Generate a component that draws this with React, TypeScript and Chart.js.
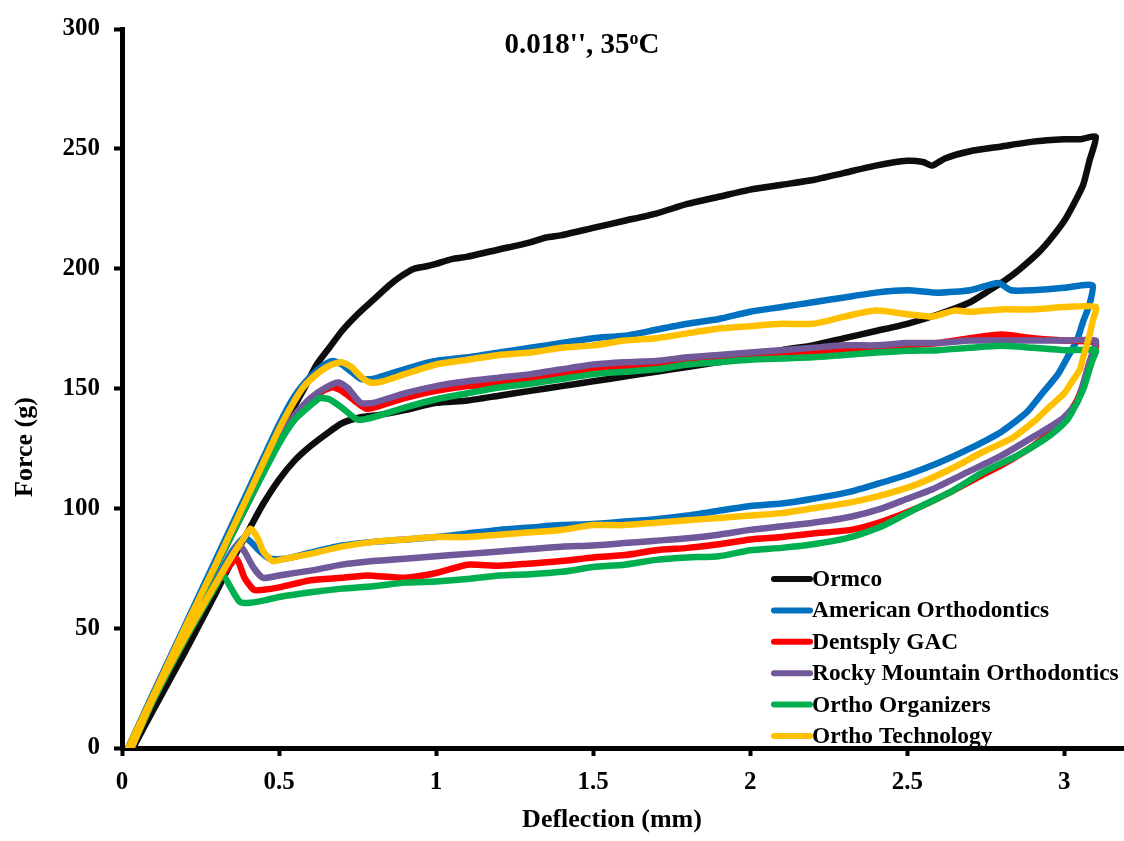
import React, { useEffect, useRef } from 'react';
import { Chart, registerables } from 'chart.js';

Chart.register(...registerables);

const FONT = '"Liberation Serif", "Times New Roman", serif';

const chartTitle = "0.018'', 35";
const chartTitleSup = 'o';
const chartTitleEnd = 'C';
const xAxisTitle = 'Deflection (mm)';
const yAxisTitle = 'Force (g)';

const seriesNames = [
  'Ormco',
  'American Orthodontics',
  'Dentsply GAC',
  'Rocky Mountain Orthodontics',
  'Ortho Organizers',
  'Ortho Technology',
];
const seriesColors = ['#0d0d0d', '#0070C0', '#FF0000', '#70589A', '#00B050', '#FFC000'];

const xMin = 0;
const xMax = 3.19;
const xStep = 0.5;
const yMin = 0;
const yMax = 300;
const yStep = 50;

// Ormco: loading then unloading
const ormcoX = [
  0.02, 0.1, 0.2, 0.3, 0.4, 0.5, 0.58, 0.62, 0.66, 0.7, 0.75, 0.8, 0.85, 0.89, 0.93, 0.97, 1.0, 1.05, 1.1, 1.2,
  1.3, 1.35, 1.4, 1.5, 1.6, 1.7, 1.8, 1.9, 2.0, 2.1, 2.2, 2.3, 2.4, 2.5, 2.55, 2.58, 2.62, 2.7, 2.8, 2.9, 3.0, 3.05, 3.1,
  3.08, 3.06, 3.03, 3.0, 2.96, 2.92, 2.86, 2.81, 2.75, 2.7, 2.6, 2.5, 2.4, 2.3, 2.2, 2.1, 2.0, 1.9, 1.8, 1.7, 1.6,
  1.5, 1.4, 1.3, 1.2, 1.1, 1.0, 0.9, 0.82, 0.76, 0.7, 0.65, 0.6, 0.55, 0.5, 0.45, 0.41, 0.35, 0.3, 0.2, 0.1, 0.035,
];
const ormcoY = [
  0, 22, 49, 76, 103, 131, 150, 160, 167, 174, 181, 187, 193, 197, 200, 201, 202, 204, 205, 208,
  211, 213, 214, 217, 220, 223, 227, 230, 233, 235, 237, 240, 243, 245, 244.5, 243, 246, 249, 251, 253, 254, 254, 255,
  245, 235, 227, 220, 213, 207, 200, 195, 190, 186, 181, 177, 174, 171, 168, 166, 163, 161, 159, 157, 155,
  153, 151, 149, 147, 145, 144, 141, 139, 138, 135.5, 131, 126, 120, 112, 102, 92.5, 78, 65, 40, 16, 0,
];

// American Orthodontics
const amerX = [
  0.02, 0.1, 0.2, 0.3, 0.4, 0.5, 0.55, 0.6, 0.64, 0.67, 0.7, 0.73, 0.76, 0.8, 0.85, 0.9, 0.95, 1.0, 1.1, 1.2,
  1.3, 1.4, 1.5, 1.6, 1.7, 1.8, 1.9, 2.0, 2.1, 2.2, 2.3, 2.4, 2.5, 2.6, 2.7, 2.79, 2.83, 2.9, 3.0, 3.05, 3.09,
  3.08, 3.06, 3.04, 3.01, 2.98, 2.93, 2.88, 2.8, 2.7, 2.6, 2.5, 2.4, 2.32, 2.2, 2.1, 2.0, 1.9, 1.8, 1.7, 1.6,
  1.5, 1.4, 1.3, 1.2, 1.1, 1.0, 0.9, 0.8, 0.7, 0.6, 0.52, 0.47, 0.44, 0.41, 0.39, 0.35, 0.3, 0.2, 0.1, 0.03,
];
const amerY = [
  0, 23, 51, 79, 107, 135, 147, 155, 159.5, 161.5, 160, 157, 154, 154, 156, 158, 160, 161.5, 163, 165,
  167, 169, 171, 172, 174.5, 177, 179, 182, 184, 186, 188, 190, 191, 190, 191, 194, 191, 191, 192, 193, 193,
  185, 178, 170, 163, 156, 148, 140, 132, 125, 119, 114, 110, 107, 104, 102, 101, 99, 97, 95.5, 94.5,
  93.5, 93, 92, 91, 89.5, 88, 87, 86, 84.5, 81.5, 79, 79, 82, 86, 88, 82, 70, 46, 21, 0,
];

// Dentsply GAC
const gacX = [
  0.02, 0.1, 0.2, 0.3, 0.4, 0.5, 0.55, 0.6, 0.64, 0.67, 0.7, 0.74, 0.78, 0.85, 0.9, 1.0, 1.1, 1.2, 1.3, 1.4,
  1.5, 1.6, 1.7, 1.8, 1.9, 2.0, 2.1, 2.2, 2.3, 2.4, 2.5, 2.6, 2.7, 2.8, 2.9, 3.0, 3.1,
  3.09, 3.07, 3.04, 3.0, 2.9, 2.8, 2.74, 2.64, 2.53, 2.42, 2.32, 2.2, 2.1, 2.0, 1.9, 1.8, 1.7, 1.6, 1.5, 1.4,
  1.3, 1.2, 1.1, 1.0, 0.9, 0.78, 0.7, 0.6, 0.5, 0.45, 0.42, 0.39, 0.365, 0.33, 0.3, 0.2, 0.1, 0.03,
];
const gacY = [
  0, 22, 49, 76, 102, 128, 138, 145, 149, 150.5, 149, 145, 141.5, 144, 146, 149, 151, 152, 154, 156,
  158, 159, 160, 162, 163, 164, 165, 165.5, 166, 167, 168, 169, 171, 172.5, 171, 170, 169,
  163, 155, 145, 137, 126, 118, 114, 107, 100, 94.5, 91, 89.5, 88, 87, 85, 83.5, 82.5, 80.5, 79.5, 78,
  77, 76, 76.5, 73, 71, 72, 71, 70, 67, 66, 66, 71, 79, 74, 68, 45, 20, 0,
];

// Rocky Mountain Orthodontics
const rmoX = [
  0.02, 0.1, 0.2, 0.3, 0.4, 0.5, 0.55, 0.6, 0.65, 0.69, 0.72, 0.76, 0.8, 0.9, 1.0, 1.1, 1.2, 1.3, 1.4, 1.5,
  1.6, 1.7, 1.8, 1.9, 2.0, 2.1, 2.2, 2.3, 2.4, 2.5, 2.6, 2.7, 2.8, 2.9, 3.0, 3.1,
  3.09, 3.08, 3.06, 3.04, 2.99, 2.91, 2.8, 2.69, 2.58, 2.5, 2.42, 2.32, 2.2, 2.1, 2.0, 1.9, 1.8, 1.7, 1.6, 1.5,
  1.4, 1.3, 1.2, 1.1, 1.0, 0.9, 0.8, 0.7, 0.6, 0.5, 0.45, 0.42, 0.39, 0.37, 0.33, 0.3, 0.2, 0.1, 0.03,
];
const rmoY = [
  0, 22, 49, 76, 102, 128, 139, 146, 150.5, 152.5, 150, 144, 144, 148, 151, 153, 154.5, 156, 158, 160,
  161, 161.5, 163, 164, 165, 166, 167, 168, 168, 169, 169, 170, 170, 170, 170, 170,
  165, 161, 152, 144, 137, 130.5, 122, 115, 108, 104, 100, 96.5, 94, 92.5, 91, 89, 87.5, 86.5, 85.5, 84.5,
  84, 83, 82, 81, 80, 79, 78, 76.5, 74, 72, 71, 75, 82, 85, 76, 69, 46, 21, 0,
];

// Ortho Organizers
const ooX = [
  0.02, 0.1, 0.2, 0.3, 0.4, 0.5, 0.55, 0.6, 0.63, 0.66, 0.7, 0.75, 0.8, 0.9, 1.0, 1.1, 1.2, 1.3, 1.4, 1.5,
  1.6, 1.7, 1.8, 1.9, 2.0, 2.1, 2.2, 2.3, 2.4, 2.5, 2.6, 2.7, 2.8, 2.9, 3.0, 3.1,
  3.09, 3.08, 3.06, 3.01, 2.955, 2.85, 2.74, 2.64, 2.53, 2.42, 2.32, 2.2, 2.1, 2.0, 1.9, 1.8, 1.7, 1.6, 1.5,
  1.4, 1.3, 1.2, 1.1, 1.0, 0.9, 0.8, 0.7, 0.6, 0.5, 0.45, 0.4, 0.375, 0.35, 0.32, 0.3, 0.2, 0.1, 0.03,
];
const ooY = [
  0, 22, 49, 76, 102, 127, 137, 143, 146, 145.5, 142, 137, 138, 142, 145.5, 148, 150.4, 152, 154, 156,
  157, 158, 160, 161, 162, 162.5, 163, 164, 165, 165.8, 166, 167, 167.8, 167, 166, 166,
  162, 158, 149.6, 137, 130.5, 122, 115, 107, 100, 92.5, 88, 85, 83.5, 82.5, 80, 79.5, 78.5, 76.5, 75.5,
  73.5, 72.5, 72, 70.5, 69.5, 69, 67.5, 66.5, 65, 63, 61.5, 60.5, 61, 66, 72.5, 68, 45, 20, 0,
];

// Ortho Technology
const otX = [
  0.02, 0.1, 0.2, 0.3, 0.4, 0.5, 0.55, 0.58, 0.62, 0.66, 0.7, 0.73, 0.76, 0.79, 0.83, 0.9, 1.0, 1.1, 1.2, 1.3,
  1.4, 1.5, 1.6, 1.7, 1.8, 1.9, 2.0, 2.1, 2.2, 2.3, 2.4, 2.5, 2.58, 2.65, 2.7, 2.8, 2.9, 3.0, 3.1,
  3.09, 3.08, 3.06, 3.05, 3.02, 3.0, 2.95, 2.91, 2.83, 2.74, 2.64, 2.53, 2.42, 2.32, 2.2, 2.1, 2.0, 1.9, 1.8, 1.7,
  1.6, 1.5, 1.4, 1.3, 1.2, 1.1, 1.0, 0.9, 0.8, 0.7, 0.6, 0.52, 0.48, 0.45, 0.43, 0.41, 0.38, 0.35, 0.3, 0.2, 0.1, 0.03,
];
const otY = [
  0, 22, 50, 77, 105, 133, 145, 151, 156, 159.5, 161, 159, 155, 152.5, 153, 156, 160, 162, 164, 165,
  167, 168, 170, 171, 173, 175, 176, 177, 177, 180, 182.5, 181, 180, 182.5, 182, 183, 183, 184, 184,
  178, 172, 163, 158, 152, 148, 142, 137, 129, 123.5, 116.5, 110, 105.5, 102.5, 100, 98, 97, 96, 95, 94,
  93, 93, 91, 90, 89, 88, 88, 87, 86, 84, 81, 79, 78, 82, 88, 91.5, 86, 80, 69, 46, 21, 0,
];

const seriesX = [ormcoX, amerX, gacX, rmoX, ooX, otX];
const seriesY = [ormcoY, amerY, gacY, rmoY, ooY, otY];

const overlayPlugin = {
  id: 'overlay',
  afterDraw(chart: any) {
    const ctx: CanvasRenderingContext2D = chart.ctx;
    const area = chart.chartArea;
    ctx.save();
    ctx.fillStyle = '#000';

    // Chart title with superscript
    const tSize = 29;
    const bigFont = `bold ${tSize}px ${FONT}`;
    const supFont = `bold ${Math.round(tSize * 0.62)}px ${FONT}`;
    ctx.font = bigFont;
    const w1 = ctx.measureText(chartTitle).width;
    const w3 = ctx.measureText(chartTitleEnd).width;
    ctx.font = supFont;
    const w2 = ctx.measureText(chartTitleSup).width;
    const total = w1 + w2 + w3;
    const cx = area.left + 460;
    const baseY = area.top + 24;
    let tx = cx - total / 2;
    ctx.textAlign = 'left';
    ctx.textBaseline = 'alphabetic';
    ctx.font = bigFont;
    ctx.fillText(chartTitle, tx, baseY);
    tx += w1;
    ctx.font = supFont;
    ctx.fillText(chartTitleSup, tx, baseY - tSize * 0.3);
    tx += w2;
    ctx.font = bigFont;
    ctx.fillText(chartTitleEnd, tx, baseY);

    // Axis titles
    ctx.font = `bold 26px ${FONT}`;
    ctx.textAlign = 'center';
    ctx.textBaseline = 'middle';
    ctx.fillText(xAxisTitle, area.left + 490, area.bottom + 72);
    ctx.save();
    ctx.translate(25, area.top + 418);
    ctx.rotate(-Math.PI / 2);
    ctx.fillText(yAxisTitle, 0, 0);
    ctx.restore();

    // Legend
    const lx0 = area.left + 652;
    const lx1 = area.left + 688;
    const ly0 = area.top + 550;
    const step = 31.4;
    ctx.font = `bold 23.4px ${FONT}`;
    ctx.textAlign = 'left';
    ctx.textBaseline = 'middle';
    chart.data.datasets.forEach((ds: any, i: number) => {
      const y = ly0 + i * step;
      ctx.strokeStyle = ds.borderColor;
      ctx.lineWidth = 6;
      ctx.lineCap = 'round';
      ctx.beginPath();
      ctx.moveTo(lx0, y);
      ctx.lineTo(lx1, y);
      ctx.stroke();
      ctx.fillStyle = '#000';
      ctx.fillText(ds.label, lx1 + 2, y + 1);
    });
    ctx.restore();
  },
};

export default function App() {
  const ref = useRef<HTMLCanvasElement>(null);

  useEffect(() => {
    const canvas = ref.current;
    if (!canvas) return;
    const datasets = seriesNames.map((name, i) => ({
      label: name,
      data: seriesX[i].map((x, j) => ({ x, y: seriesY[i][j] })),
      borderColor: seriesColors[i],
      backgroundColor: seriesColors[i],
      borderWidth: 6.5,
      pointRadius: 0,
      pointHoverRadius: 0,
      showLine: true,
      fill: false,
      tension: 0.2,
      borderJoinStyle: 'round' as const,
      borderCapStyle: 'round' as const,
      order: seriesNames.length - i,
    }));

    const tickFont = { family: FONT, size: 25, weight: 'bold' as const };

    const chart = new Chart(canvas, {
      type: 'scatter',
      data: { datasets },
      options: {
        animation: false,
        responsive: false,
        devicePixelRatio: 1,
        layout: { padding: { top: 24, right: 0, left: 0, bottom: 0 } },
        plugins: {
          legend: { display: false },
          title: { display: false },
          tooltip: { enabled: false },
        },
        scales: {
          x: {
            type: 'linear',
            min: xMin,
            max: xMax,
            ticks: {
              stepSize: xStep,
              includeBounds: false,
              color: '#000',
              font: tickFont,
              padding: 12,
              maxRotation: 0,
              callback: (v: any) => String(Number(v)),
            },
            grid: {
              display: true,
              drawOnChartArea: false,
              drawTicks: true,
              tickLength: 8,
              tickWidth: 4,
              tickColor: '#000',
            },
            border: { display: true, color: '#000', width: 5 },
            afterFit: (s: any) => {
              s.height = 93;
            },
          },
          y: {
            type: 'linear',
            min: yMin,
            max: yMax,
            ticks: {
              stepSize: yStep,
              includeBounds: false,
              color: '#000',
              font: tickFont,
              padding: 14,
              callback: (v: any) => String(Number(v)),
            },
            grid: {
              display: true,
              drawOnChartArea: false,
              drawTicks: true,
              tickLength: 8,
              tickWidth: 4,
              tickColor: '#000',
            },
            border: { display: true, color: '#000', width: 5 },
            afterFit: (s: any) => {
              s.width = 122;
            },
          },
        },
      },
      plugins: [overlayPlugin],
    });
    return () => chart.destroy();
  }, []);

  return (
    <div style={{ position: 'absolute', left: 0, top: 0, width: 1124, height: 841, background: '#fff' }}>
      <canvas ref={ref} width={1124} height={841} style={{ display: 'block', width: 1124, height: 841 }} />
    </div>
  );
}
